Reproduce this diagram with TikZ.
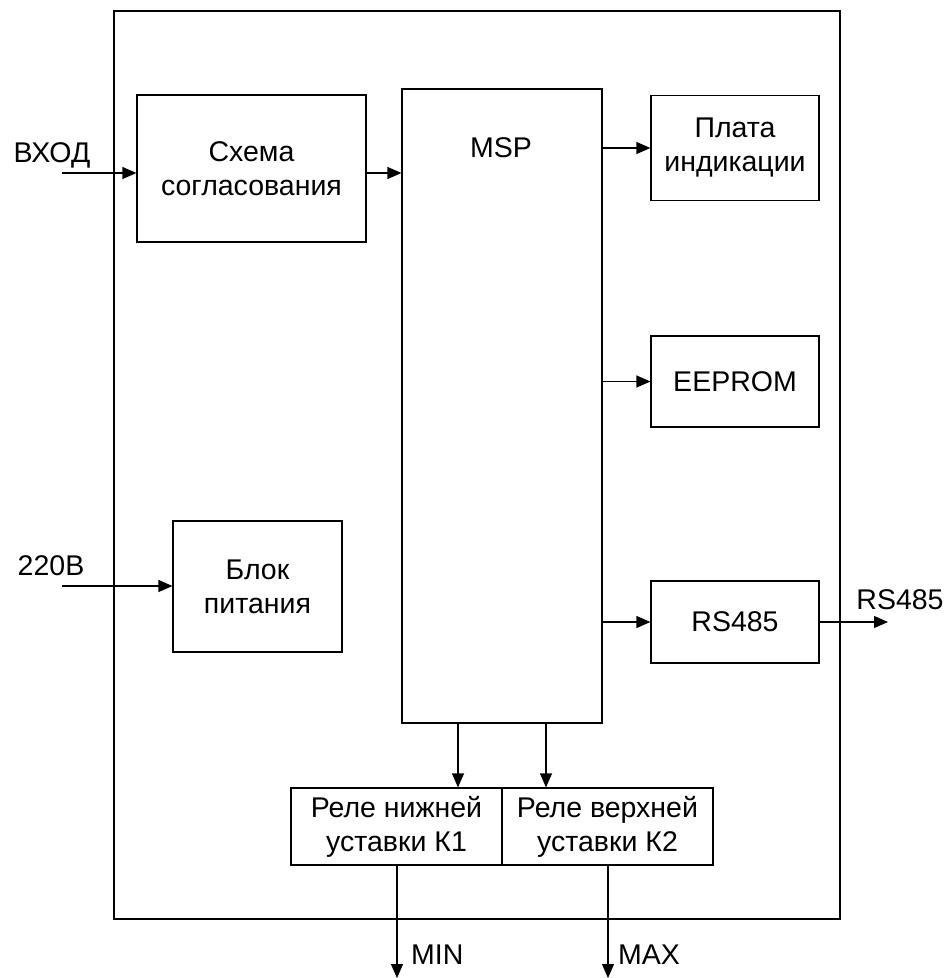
\documentclass[tikz,border=0pt]{standalone}
\usepackage{fontspec}
\setmainfont{Liberation Sans}
\usetikzlibrary{arrows.meta}
\tikzset{>={Triangle[length=14pt,width=12pt]}}
\tikzset{box/.style = {draw, line width=1.2pt, align=center, inner sep=0pt},
         lbl/.style = {inner sep=0pt},
         arr/.style = {->, line width=1.2pt}}

\begin{document}
\begin{tikzpicture}[x=1pt,y=-1pt,font=\fontsize{28.5}{34}\selectfont]
                    \useasboundingbox (0,0) rectangle (952,978);
                    \draw[line width=1.2pt] (114,11) rectangle (840,919);

                    \node[box, minimum width=229pt, minimum height=147pt] (schema) at (251.5,168.5) {Схема\\согласования};
                    \node[box, minimum width=200pt, minimum height=634pt] (msp) at (502,406) {};
                    \node[lbl] (msptxt) at (501,148) {MSP};
                    \node[box, minimum width=168pt, minimum height=105pt] (plata) at (735,148) {Плата\\индикации};
                    \node[box, minimum width=168pt, minimum height=91pt] (eeprom) at (735,381.5) {EEPROM};
                    \node[box, minimum width=168pt, minimum height=82pt] (rs) at (735,622) {RS485};
                    \node[box, minimum width=169pt, minimum height=131pt] (blok) at (257.5,586.5) {Блок\\питания};
                    \node[box, minimum width=211pt, minimum height=77pt] (rele1) at (396.5,826.5) {Реле нижней\\уставки К1};
                    \node[box, minimum width=211pt, minimum height=77pt] (rele2) at (607.5,826.5) {Реле верхней\\уставки К2};

                    \coordinate (vhod) at (62,173);
                    \coordinate (pit) at (62,586);
                    \coordinate (rsout) at (888,622);
                    \coordinate (min) at (397,978);
                    \coordinate (max) at (608,978);
                    \coordinate (k1) at (458,723);
                    \coordinate (k2) at (546,723);

                    \node[lbl] (vhodtxt) at (52,155) {ВХОД};
                    \node[lbl] (pittxt) at (51,566) {220В};
                    \node[lbl] (rsouttxt) at (900,600) {RS485};
                    \node[lbl, anchor=west] (mintxt) at (411,955) {MIN};
                    \node[lbl, anchor=west] (maxtxt) at (618,955) {MAX};

                    \draw[arr] (vhod) -- (vhod -| schema.west);
                    \draw[arr] (vhod -| schema.east) -- (vhod -| msp.west);
                    \draw[arr] (pit) -- (pit -| blok.west);
                    \draw[arr] (plata.west -| msp.east) -- (plata.west);
                    \draw[arr] (eeprom.west -| msp.east) -- (eeprom.west);
                    \draw[arr] (rs.west -| msp.east) -- (rs.west);
                    \draw[arr] (rs.east) -- (rsout);
                    \draw[arr] (k1) -- (k1 |- rele1.north);
                    \draw[arr] (k2) -- (k2 |- rele2.north);
                    \draw[arr] (min |- rele1.south) -- (min);
                    \draw[arr] (max |- rele2.south) -- (max);
                \end{tikzpicture}
\end{document}
